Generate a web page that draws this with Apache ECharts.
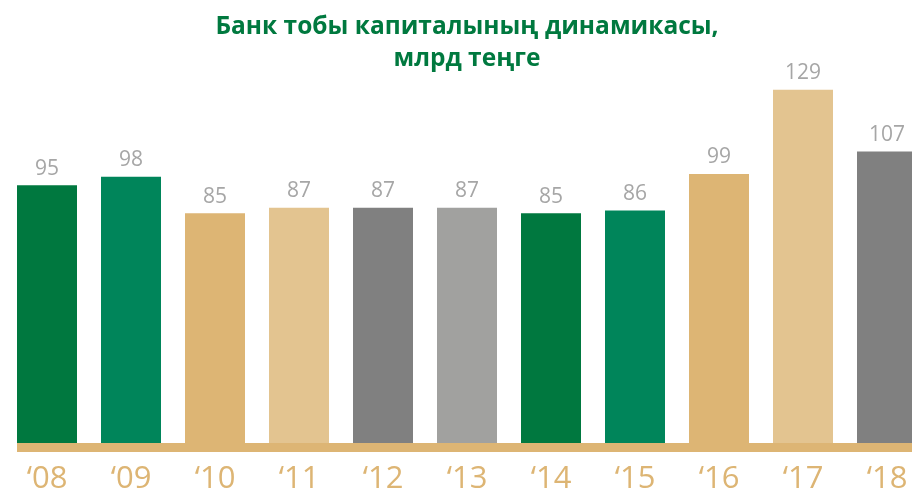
<!DOCTYPE html>
<html>
<head>
<meta charset="utf-8">
<script src="https://cdn.jsdelivr.net/npm/echarts@6/dist/echarts.min.js"></script>
<style>
html,body{margin:0;padding:0;background:#fff;}
#chart{width:912px;height:495px;}
</style>
</head>
<body>
<div id="chart"></div>
<script>
const titleText = 'Банк тобы капиталының динамикасы,\nмлрд теңге';
const categories = ['‘08','‘09','‘10','‘11','‘12','‘13','‘14','‘15','‘16','‘17','‘18'];
const values = [95, 98, 85, 87, 87, 87, 85, 86, 99, 129, 107];
const barColors = ['#00783F','#00855A','#DDB574','#E3C490','#808080','#A1A19F','#00783F','#00855A','#DDB574','#E3C490','#808080'];

const FONT = '"Open Sans", "DejaVu Sans", sans-serif';
const chart = echarts.init(document.getElementById('chart'), null, {renderer:'canvas'});
chart.setOption({
  backgroundColor: '#ffffff',
  animation: false,
  title: {
    text: titleText,
    left: 462,
    textAlign: 'center',
    top: 6,
    textStyle: { color: '#00793F', fontSize: 24.5, fontWeight: 'bold', lineHeight: 32, fontFamily: FONT }
  },
  grid: { left: 47, width: 840, top: 30.7, height: 423.3, containLabel: false },
  xAxis: {
    type: 'category',
    data: categories,
    boundaryGap: false,
    axisLine: { show: false },
    axisTick: { show: false },
    axisLabel: { color: '#DDB574', fontSize: 31, fontFamily: FONT, margin: 12 }
  },
  yAxis: { type: 'value', min: 0, max: 150, show: false, splitLine: { show: false } },
  series: [{
    type: 'bar',
    barWidth: 60,
    data: values.map((v, i) => ({ value: v, itemStyle: { color: barColors[i] } })),
    label: { show: true, position: 'top', distance: 6, color: '#A6A6A6', fontSize: 21, fontFamily: FONT }
  }]
});
const x0 = chart.convertToPixel({xAxisIndex: 0}, 0) - 30;
const y0 = chart.convertToPixel({yAxisIndex: 0}, 0);
chart.setOption({
  graphic: [{ type: 'rect', shape: { x: x0, y: y0 - 9, width: 912 - x0, height: 9 }, style: { fill: '#DDB574' }, z: 10 }]
});
</script>
</body>
</html>
